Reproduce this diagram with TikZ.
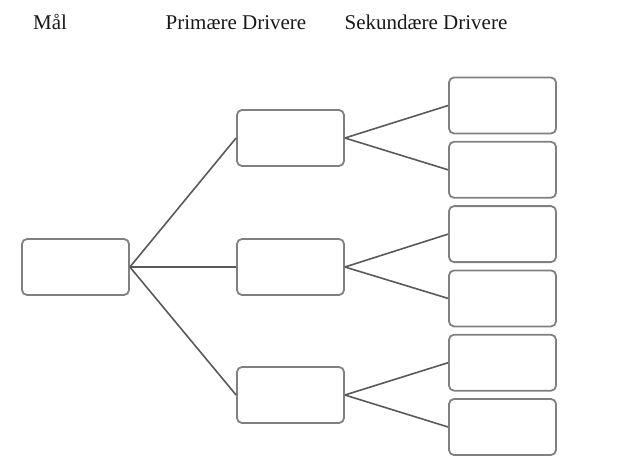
\documentclass[tikz,border=0pt]{standalone}
\usepackage{fontspec}
\setmainfont{Liberation Serif}
\usetikzlibrary{positioning}
\tikzset{
    box/.style={
        rectangle, rounded corners=5pt,
        draw=black!50, line width=1.8pt, fill=white,
        minimum width=107pt, minimum height=56pt
    },
    header/.style={anchor=base, font=\fontsize{21}{24}\selectfont, text=black!90},
    link/.style={line width=1.6pt, draw=black!65}
}
\begin{document}
\begin{tikzpicture}[x=1pt, y=-1pt, node distance=6.5pt]
    \useasboundingbox (0,0) rectangle (634,455);

    \node[header] (hmal) at (50,29) {Mål};
    \node[header] (hprim) at (236,29) {Primære Drivere};
    \node[header] (hsek) at (426,29) {Sekundære Drivere};

    \node[box] (goal) at (75.5,267) {};
    \node[box] (p1) at (290.5,138) {};
    \node[box] (p2) at (290.5,267) {};
    \node[box] (p3) at (290.5,395) {};

    \node[box] (s1) at (502.5,105.5) {};
    \node[box, below=of s1] (s2) {};
    \node[box, below=of s2] (s3) {};
    \node[box, below=of s3] (s4) {};
    \node[box, below=of s4] (s5) {};
    \node[box, below=of s5] (s6) {};

    \draw[link] (goal.east) -- (p1.west);
    \draw[link] (goal.east) -- (p2.west);
    \draw[link] (goal.east) -- (p3.west);
    \draw[link] (p1.east) -- (s1.west);
    \draw[link] (p1.east) -- (s2.west);
    \draw[link] (p2.east) -- (s3.west);
    \draw[link] (p2.east) -- (s4.west);
    \draw[link] (p3.east) -- (s5.west);
    \draw[link] (p3.east) -- (s6.west);
\end{tikzpicture}
\end{document}
